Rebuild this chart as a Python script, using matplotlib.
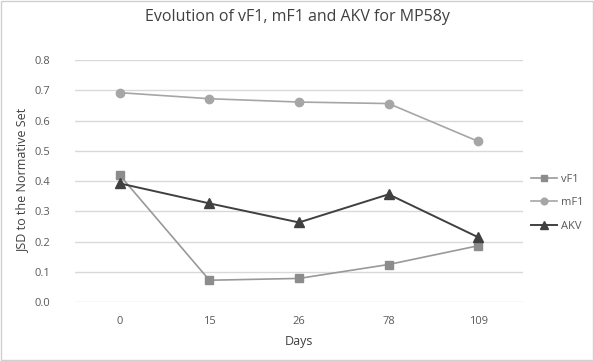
import matplotlib
matplotlib.use("Agg")
import matplotlib.pyplot as plt
from matplotlib.patches import Rectangle

days = ["0", "15", "26", "78", "109"]
vF1 = [0.419, 0.072, 0.078, 0.124, 0.186]
mF1 = [0.692, 0.672, 0.661, 0.656, 0.531]
AKV = [0.392, 0.326, 0.263, 0.356, 0.214]
yticks = [0.0, 0.1, 0.2, 0.3, 0.4, 0.5, 0.6, 0.7, 0.8]

plt.rcParams['font.family'] = ['Open Sans', 'DejaVu Sans']

fig = plt.figure(figsize=(5.94, 3.61), dpi=100)
fig.patches.append(Rectangle((0.002, 0.003), 0.996, 0.994, transform=fig.transFigure,
                             fill=False, edgecolor='#d0d0d0', linewidth=1))
ax = fig.add_axes([0.1263, 0.1634, 0.8805 - 0.1263, 0.8338 - 0.1634])

x = list(range(len(days)))
ax.plot(x, vF1, color='#999999', marker='s', markersize=6, linewidth=1.2,
        markerfacecolor='#8c8c8c', markeredgecolor='#8c8c8c', label='vF1', zorder=3)
ax.plot(x, mF1, color='#a6a6a6', marker='o', markersize=6, linewidth=1.2,
        markerfacecolor='#a6a6a6', markeredgecolor='#a6a6a6', label='mF1', zorder=3)
ax.plot(x, AKV, color='#404040', marker='^', markersize=6.5, linewidth=1.4,
        markerfacecolor='#404040', markeredgecolor='#404040', label='AKV', zorder=4)

ax.set_xlim(-0.5, len(days) - 0.5)
ax.set_ylim(0, 0.8)
ax.set_yticks(yticks)
ax.set_yticklabels([f"{v:.1f}" for v in yticks])
ax.set_xticks(x)
ax.set_xticklabels(days)
ax.grid(axis='y', color='#d9d9d9', linewidth=1)
ax.set_axisbelow(True)
for s in ax.spines.values():
    s.set_visible(False)
ax.tick_params(axis='both', length=0, labelsize=8, labelcolor='#595959')
ax.tick_params(axis='y', pad=18)
ax.tick_params(axis='x', pad=10)
ax.set_ylabel("JSD to the Normative Set", fontsize=9, color='#404040', labelpad=4)
ax.set_xlabel("Days", fontsize=9, color='#404040', labelpad=6)
fig.suptitle("Evolution of vF1, mF1 and AKV for MP58y", fontsize=11.5, color='#404040', y=0.975)

leg = ax.legend(loc='center left', bbox_to_anchor=(1.0, 0.41), frameon=False,
                fontsize=8, labelcolor='#595959', handlelength=2.4, handletextpad=0.3,
                labelspacing=1.15, borderaxespad=0.3, markerscale=0.8)

fig.savefig("out.png", dpi=100)
